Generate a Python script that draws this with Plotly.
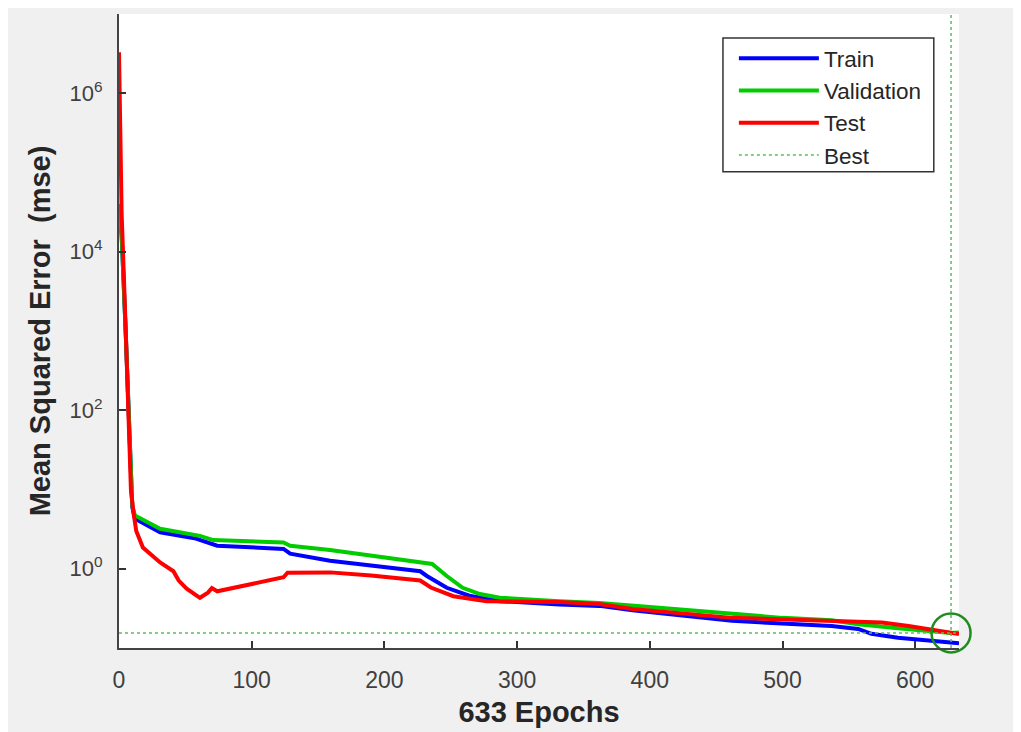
import plotly.graph_objects as go

# ---- data ----
train_epochs = [0, 2, 5, 7, 9, 10, 12, 31, 58, 74, 124, 129, 159, 227, 232, 247, 264, 287, 332, 362, 387, 462, 537, 557, 567, 587, 633]
train_mse = [4.0e4, 1.6e4, 1000, 126, 10, 6.0, 4.27, 2.88, 2.4, 1.95, 1.78, 1.55, 1.26, 0.93, 0.81, 0.575, 0.457, 0.39, 0.355, 0.34, 0.30, 0.22, 0.19, 0.174, 0.151, 0.135, 0.115]

val_epochs = [0, 2, 5, 7, 9, 10, 12, 31, 61, 71, 124, 129, 159, 191, 227, 236, 247, 259, 272, 287, 332, 362, 400, 437, 500, 537, 557, 587, 627, 633]
val_mse = [4.0e4, 1.6e4, 1000, 126, 10, 6.3, 4.7, 3.2, 2.6, 2.3, 2.14, 1.95, 1.72, 1.45, 1.22, 1.15, 0.81, 0.575, 0.48, 0.43, 0.39, 0.37, 0.33, 0.295, 0.24, 0.224, 0.20, 0.178, 0.155, 0.157]

test_epochs = [0, 2, 5, 7, 9, 11, 13, 18, 31, 41, 45, 51, 61, 67, 70, 74, 124, 127, 159, 190, 227, 235, 252, 277, 332, 362, 387, 462, 537, 557, 575, 595, 633]
test_mse = [3.3e6, 3.0e4, 1100, 150, 9.8, 5.0, 3.0, 1.85, 1.2, 0.93, 0.71, 0.56, 0.43, 0.50, 0.57, 0.52, 0.78, 0.89, 0.90, 0.82, 0.71, 0.58, 0.45, 0.39, 0.38, 0.36, 0.31, 0.24, 0.22, 0.21, 0.21, 0.19, 0.15]

best_epoch = 627
best_mse = 0.155
total_epochs = 633

x_ticks = [0, 100, 200, 300, 400, 500, 600]
y_ticks = [1, 100, 1e4, 1e6]
y_tick_text = ["10<sup>0</sup>", "10<sup>2</sup>", "10<sup>4</sup>", "10<sup>6</sup>"]

FONT = "Liberation Sans, Arial, sans-serif"
BEST_COLOR = "rgb(90,190,90)"

fig = go.Figure()

fig.add_trace(go.Scatter(x=train_epochs, y=train_mse, mode="lines", name="Train",
                         line=dict(color="rgb(0,0,255)", width=4)))
fig.add_trace(go.Scatter(x=val_epochs, y=val_mse, mode="lines", name="Validation",
                         line=dict(color="rgb(0,204,0)", width=4)))
fig.add_trace(go.Scatter(x=test_epochs, y=test_mse, mode="lines", name="Test",
                         line=dict(color="rgb(255,0,0)", width=4)))
# Best: horizontal and vertical dotted lines
fig.add_trace(go.Scatter(x=[0, total_epochs], y=[best_mse, best_mse], mode="lines", name="Best",
                         line=dict(color=BEST_COLOR, width=1.5, dash="dot")))
fig.add_trace(go.Scatter(x=[best_epoch, best_epoch], y=[0.1, 1e7], mode="lines", showlegend=False,
                         line=dict(color=BEST_COLOR, width=1.5, dash="dot")))
fig.add_trace(go.Scatter(x=[best_epoch], y=[best_mse], mode="markers", showlegend=False,
                         cliponaxis=False,
                         marker=dict(symbol="circle-open", size=39,
                                     line=dict(color="rgb(30,140,30)", width=2.5),
                                     color="rgb(30,140,30)")))

# plot area in figure px: left 111, top 6, width 840, height 634
fig.update_layout(
    width=1013, height=724,
    margin=dict(l=111, r=62, t=6, b=84),
    paper_bgcolor="#f0f0f0",
    plot_bgcolor="white",
    font=dict(family=FONT, size=22, color="#404040"),
    showlegend=True,
    legend=dict(
        x=0.732, y=0.9637, xanchor="left", yanchor="top",
        bgcolor="rgba(0,0,0,0)", borderwidth=0,
        font=dict(family=FONT, size=22.5, color="#262626"),
        itemwidth=80, tracegroupgap=0,
    ),
    xaxis=dict(
        range=[0, total_epochs], tickvals=x_ticks, ticks="inside", ticklen=7, tickwidth=1.5,
        tickcolor="#333333", showgrid=False, zeroline=False,
        showline=True, linecolor="#444444", linewidth=2, mirror=False,
        ticklabelstandoff=10,
        tickfont=dict(family=FONT, size=23, color="#404040"),
        title=dict(text="<b>633 Epochs</b>", font=dict(family=FONT, size=29, color="#262626"), standoff=10),
    ),
    yaxis=dict(
        type="log", range=[-1, 7], tickvals=y_ticks, ticktext=y_tick_text,
        ticks="inside", ticklen=7, tickwidth=1.5, tickcolor="#333333",
        showgrid=False, zeroline=False,
        showline=True, linecolor="#444444", linewidth=2, mirror=False,
        ticklabelstandoff=10,
        tickfont=dict(family=FONT, size=22, color="#404040"),
        title=dict(text="<b>Mean Squared Error  (mse)</b>", font=dict(family=FONT, size=29, color="#262626"), standoff=10),
    ),
    shapes=[
        # legend frame
        dict(type="rect", xref="paper", yref="paper", x0=0.719, x1=0.970, y0=0.751, y1=0.962,
             fillcolor="rgba(0,0,0,0)", line=dict(color="#333333", width=1.5), layer="above"),
    ],
)

fig.write_html("out.html")
